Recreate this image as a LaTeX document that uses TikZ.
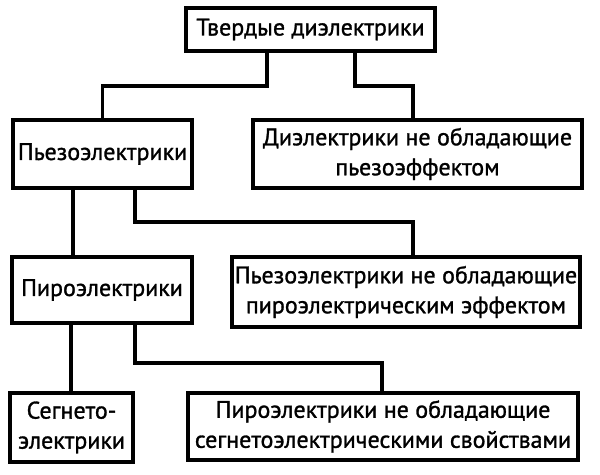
\documentclass[tikz,border=0pt]{standalone}
\usepackage{fontspec}
\setmainfont{PT Sans}[FakeBold=1.2]
\usepackage{tikz}
\usetikzlibrary{positioning, calc}
\tikzset{
    classbox/.style={rectangle, draw=black, line width=1.7pt, fill=white, align=center, inner sep=0pt, font=\fontsize{12}{15}\selectfont},
    treeline/.style={line width=1.7pt, draw=black, line join=miter}
}

\begin{document}
\begin{tikzpicture}[x=0.5pt, y=-0.5pt]
    \useasboundingbox (0,0) rectangle (600,475);
    \node[classbox, minimum width=124.5pt, minimum height=21.5pt] (solid) at (310.5,29.5) {Твердые диэлектрики};
    \node[classbox, minimum width=89.5pt, minimum height=34pt] (piezo) at (102.5,154) {Пьезоэлектрики};
    \node[classbox, minimum width=164.5pt, minimum height=34pt] (nopiezo) at (417.5,154) {Диэлектрики не обладающие\\пьезоэффектом};
    \node[classbox, minimum width=90pt, minimum height=33pt] (pyro) at (102,290) {Пироэлектрики};
    \node[classbox, minimum width=174pt, minimum height=35pt] (nopyro) at (406,292) {Пьезоэлектрики не обладающие\\пироэлектрическим эффектом};
    \node[classbox, minimum width=61.5pt, minimum height=34.5pt] (ferro) at (71.5,427.5) {Сегнето-\\электрики};
    \node[classbox, minimum width=195pt, minimum height=33.5pt] (noferro) at (383,426.5) {Пироэлектрики не обладающие\\сегнетоэлектрическими свойствами};

    % bends of the tree lines
    \coordinate (a1) at (267,86);
    \coordinate (a2) at (355,86);
    \coordinate (a3) at (413,86);
    \coordinate (b1) at (73,0);
    \coordinate (b2) at (135,222);
    \coordinate (b3) at (413,222);
    \coordinate (c1) at (71,0);
    \coordinate (c2) at (135,363);
    \coordinate (c3) at (382,363);

    \draw[treeline] (solid.south -| a1) -- (a1) -| (piezo.north);
    \draw[treeline] (solid.south -| a2) -- (a2) -- (a3) -- (nopiezo.north -| a3);
    \draw[treeline] (piezo.south -| b1) -- (pyro.north -| b1);
    \draw[treeline] (piezo.south -| b2) -- (b2) -- (b3) -- (nopyro.north -| b3);
    \draw[treeline] (pyro.south -| c1) -- (ferro.north -| c1);
    \draw[treeline] (pyro.south -| c2) -- (c2) -- (c3) -- (noferro.north -| c3);
\end{tikzpicture}
\end{document}
